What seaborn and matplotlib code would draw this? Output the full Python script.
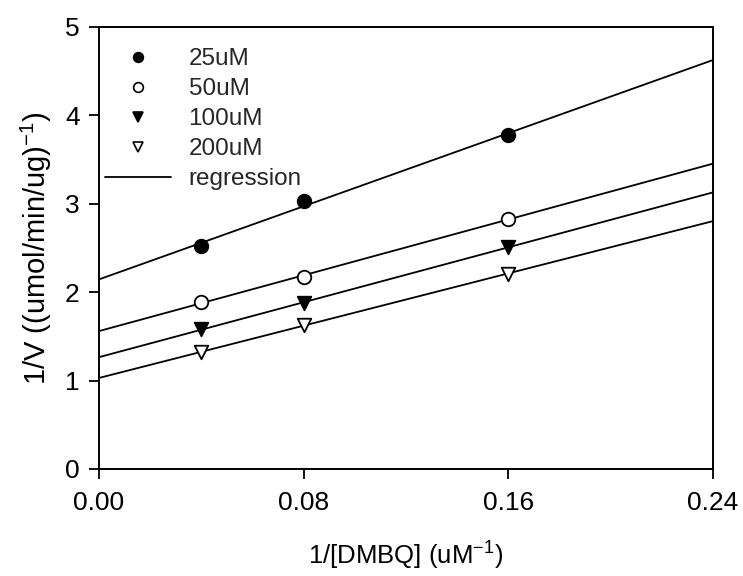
import numpy as np
import pandas as pd
import matplotlib
matplotlib.use("Agg")
import matplotlib.pyplot as plt
from matplotlib.lines import Line2D
import seaborn as sns

# Lineweaver-Burk data: 1/[DMBQ] vs 1/V at several fixed co-substrate concentrations
inv_dmbq = [0.04, 0.08, 0.16]
series_labels = ["25uM", "50uM", "100uM", "200uM"]
inv_v_25 = [2.52, 3.03, 3.78]
inv_v_50 = [1.89, 2.17, 2.83]
inv_v_100 = [1.58, 1.88, 2.51]
inv_v_200 = [1.32, 1.63, 2.21]
x_ticks = [0.00, 0.08, 0.16, 0.24]
y_ticks = [0, 1, 2, 3, 4, 5]

sns.set_theme(style="ticks")
plt.rcParams["font.family"] = ["Liberation Sans", "DejaVu Sans"]
plt.rcParams["mathtext.fontset"] = "custom"
plt.rcParams["mathtext.rm"] = "Liberation Sans"
plt.rcParams["mathtext.it"] = "Liberation Sans:italic"
plt.rcParams["mathtext.bf"] = "Liberation Sans:bold"

df = pd.DataFrame({
    "x": inv_dmbq * 4,
    "y": inv_v_25 + inv_v_50 + inv_v_100 + inv_v_200,
    "conc": np.repeat(series_labels, len(inv_dmbq)),
})

styles = {
    "25uM": dict(marker="o", facecolor="black"),
    "50uM": dict(marker="o", facecolor="white"),
    "100uM": dict(marker="v", facecolor="black"),
    "200uM": dict(marker="v", facecolor="white"),
}

fig = plt.figure(figsize=(7.43, 5.76), dpi=100)
ax = fig.add_axes([99 / 743, 1 - 469 / 576, (713 - 99) / 743, (469 - 27) / 576])
ax.set_xlim(0, 0.24)
ax.set_ylim(0, 5)

# least-squares line for each series, extended across the full x range
for lab in series_labels:
    sub = df[df["conc"] == lab]
    sns.regplot(data=sub, x="x", y="y", ax=ax, scatter=False, ci=None,
                truncate=False, line_kws=dict(color="black", lw=1.3))
for lab in series_labels:
    sub = df[df["conc"] == lab]
    st = styles[lab]
    sns.scatterplot(data=sub, x="x", y="y", ax=ax, marker=st["marker"],
                    color=st["facecolor"], edgecolor="black", linewidth=1.3,
                    s=95, zorder=5, legend=False)

ax.set_xlim(0, 0.24)
ax.set_ylim(0, 5)
ax.set_xticks(x_ticks)
ax.set_xticklabels([f"{v:.2f}" for v in x_ticks])
ax.set_yticks(y_ticks)
ax.set_yticklabels([str(v) for v in y_ticks])
ax.tick_params(axis="both", direction="out", length=7, width=1.3,
               labelsize=19, colors="black")
ax.tick_params(axis="x", pad=9)
ax.tick_params(axis="y", pad=7)
for sp in ax.spines.values():
    sp.set_visible(True)
    sp.set_color("black")
    sp.set_linewidth(1.4)

ax.set_xlabel(r"1/[DMBQ] (uM$^{-1}$)", fontsize=18.5, labelpad=18, color="black")
ax.set_ylabel(r"1/V ((umol/min/ug)$^{-1}$)", fontsize=21, labelpad=8, color="black")

handles = []
for lab in series_labels:
    st = styles[lab]
    handles.append(Line2D([], [], ls="none", marker=st["marker"], markersize=7,
                          markerfacecolor=st["facecolor"], markeredgecolor="black",
                          markeredgewidth=1.2))
handles.append(Line2D([], [], color="black", lw=1.3))
leg = ax.legend(handles, series_labels + ["regression"], loc="upper left",
                bbox_to_anchor=(105 / 743, 1 - 48 / 576),
                bbox_transform=fig.transFigure, frameon=False, fontsize=17.5,
                handlelength=2.7, handletextpad=0.74, labelspacing=0.33,
                borderpad=0, borderaxespad=0)

fig.savefig("out.png", dpi=100, facecolor="white")
